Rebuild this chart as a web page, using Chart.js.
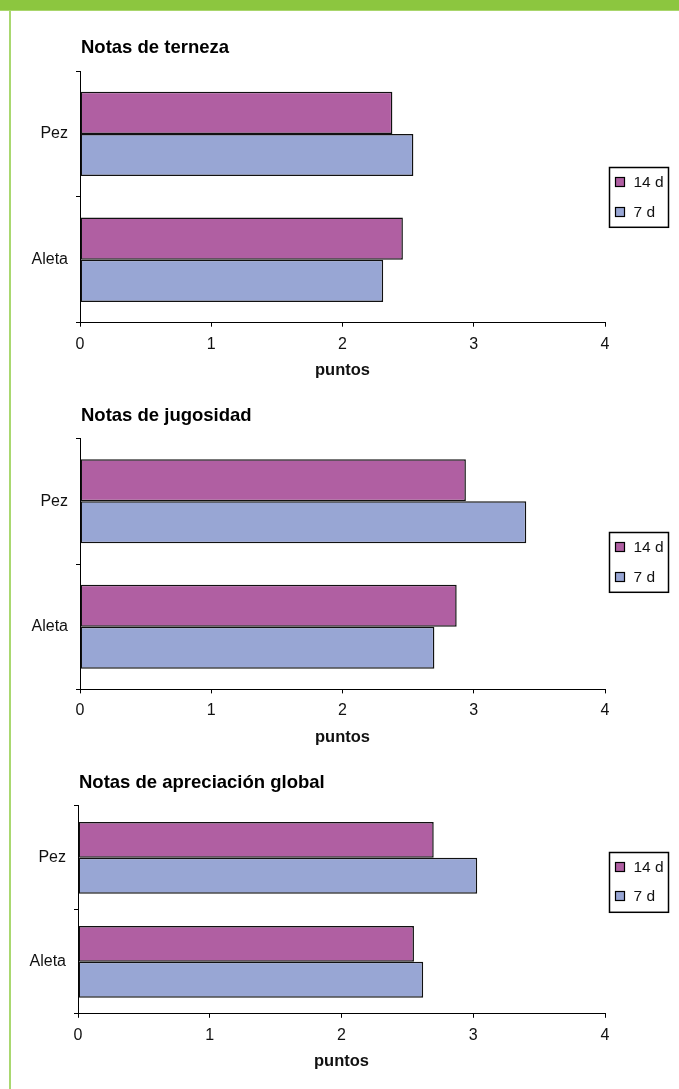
<!DOCTYPE html>
<html lang="es">
<head>
<meta charset="utf-8">
<title>Notas de terneza, jugosidad y apreciación global</title>
<script src="https://cdn.jsdelivr.net/npm/chart.js@4/dist/chart.umd.min.js"></script>
<style>
  html, body { margin: 0; background: #fff; }
  #page { position: relative; width: 679px; height: 1089px; overflow: hidden; background: #fff; }
  #topbar { position: absolute; left: 0; top: 0; width: 679px; height: 10px; background: #8cc63f; border-bottom: 1px solid #a9d66c; }
  #leftrule { position: absolute; left: 9px; top: 11px; width: 2px; height: 1078px; background: #a9d870; }
  canvas { position: absolute; left: 0; }
</style>
</head>
<body>
<div id="page">
  <div id="topbar"></div>
  <div id="leftrule"></div>
  <canvas id="terneza" width="679" height="385" style="top:0px"></canvas>
  <canvas id="jugosidad" width="679" height="365" style="top:385px"></canvas>
  <canvas id="global" width="679" height="339" style="top:750px"></canvas>
</div>
<script>
// categories and series
const categories = ["Pez", "Aleta"];
const seriesNames = ["14 d", "7 d"];
const axisMax = 4;

// scores (puntos) per category, Pez first
const terneza14 = [2.38, 2.46];
const terneza7 = [2.54, 2.31];
const jugosidad14 = [2.94, 2.87];
const jugosidad7 = [3.40, 2.70];
const global14 = [2.70, 2.55];
const global7 = [3.03, 2.62];

const PURPLE = "#b05fa2";
const BLUE = "#98a6d4";
const FONT = '"Liberation Sans", Arial, sans-serif';
const X_SCALE_H = 58;

Chart.defaults.font.family = FONT;
Chart.defaults.color = "#111";

// page layout of each panel (canvas top/height, plot box in page coords)
const panels = [
  { id: "terneza", title: "Notas de terneza", d14: terneza14, d7: terneza7,
    top: 0, height: 385, left: 80, right: 605, axisTop: 71, axisBottom: 322.7, barFrac: 0.67, legendShift: 0 },
  { id: "jugosidad", title: "Notas de jugosidad", d14: jugosidad14, d7: jugosidad7,
    top: 385, height: 365, left: 80, right: 605, axisTop: 438.6, axisBottom: 689.4, barFrac: 0.67, legendShift: -2 },
  { id: "global", title: "Notas de apreciación global", d14: global14, d7: global7,
    top: 750, height: 339, left: 78, right: 605, axisTop: 805.8, axisBottom: 1013.8, barFrac: 0.69, legendShift: -28 }
];

// chart title above the value axis and a boxed legend right of the plot
const panelExtras = {
  id: "panelExtras",
  afterDraw(chart, args, opts) {
    const ctx = chart.ctx;
    const area = chart.chartArea;
    ctx.save();
    ctx.fillStyle = "#000";
    ctx.font = "bold 18.5px " + FONT;
    ctx.textAlign = "left";
    ctx.textBaseline = "alphabetic";
    ctx.fillText(opts.title, area.left + 1, area.top - 18);

    const sets = chart.data.datasets;
    const rowGap = 29.4;
    const cy = (area.top + area.bottom) / 2 + opts.legendShift;
    const bx = area.right + 4.5;
    const bw = 59;
    const bh = rowGap * sets.length + 1;
    ctx.strokeStyle = "#000";
    ctx.lineWidth = 1.5;
    ctx.strokeRect(bx, Math.round(cy - bh / 2) + 0.5, bw, bh);

    ctx.font = "15.5px " + FONT;
    ctx.textBaseline = "middle";
    sets.forEach((ds, i) => {
      const y = Math.round(cy + (i - (sets.length - 1) / 2) * rowGap);
      ctx.fillStyle = ds.backgroundColor;
      ctx.fillRect(bx + 6, y - 4.5, 9, 9);
      ctx.lineWidth = 1.2;
      ctx.strokeRect(bx + 6, y - 4.5, 9, 9);
      ctx.fillStyle = "#111";
      ctx.fillText(ds.label, bx + 24, y + 1);
    });
    ctx.restore();
  }
};

panels.forEach(p => {
  const plotTop = p.axisTop - p.top;
  const plotBottom = p.axisBottom - p.top;
  new Chart(document.getElementById(p.id), {
    type: "bar",
    data: {
      labels: categories,
      datasets: [
        { label: seriesNames[0], data: p.d14, backgroundColor: PURPLE, borderColor: "#111", borderWidth: 1.5, borderSkipped: false },
        { label: seriesNames[1], data: p.d7, backgroundColor: BLUE, borderColor: "#111", borderWidth: 1.5, borderSkipped: false }
      ]
    },
    options: {
      indexAxis: "y",
      responsive: false,
      animation: false,
      datasets: { bar: { categoryPercentage: p.barFrac, barPercentage: 1 } },
      layout: {
        padding: { left: 0, right: 679 - p.right, top: plotTop, bottom: p.height - plotBottom - X_SCALE_H }
      },
      plugins: {
        legend: { display: false },
        tooltip: { enabled: false },
        panelExtras: { title: p.title, legendShift: p.legendShift }
      },
      scales: {
        x: {
          type: "linear",
          min: 0,
          max: axisMax,
          ticks: { stepSize: 1, padding: 8, font: { size: 16 }, color: "#111" },
          grid: { drawOnChartArea: false, tickLength: 4, color: "#000" },
          border: { color: "#000", width: 1 },
          title: { display: true, text: "puntos", font: { size: 16.5, weight: "bold" }, color: "#111", padding: 0 },
          afterFit(s) { s.height = X_SCALE_H; }
        },
        y: {
          ticks: { padding: 8, font: { size: 16 }, color: "#111" },
          grid: { drawOnChartArea: false, tickLength: 4, color: "#000", offset: true },
          border: { color: "#000", width: 1 },
          afterFit(s) { s.width = p.left; }
        }
      }
    },
    plugins: [panelExtras]
  });
});
</script>
</body>
</html>
